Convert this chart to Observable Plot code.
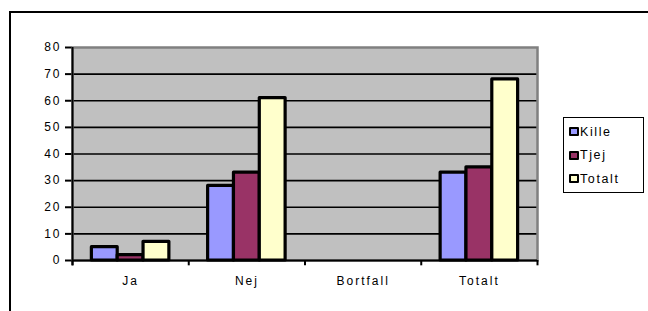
<!DOCTYPE html>
<html>
<head>
<meta charset="utf-8">
<script src="https://cdn.jsdelivr.net/npm/d3@7"></script>
<script src="https://cdn.jsdelivr.net/npm/@observablehq/plot@0.6"></script>
<style>
html,body{margin:0;padding:0;background:#fff;overflow:hidden;width:648px;height:311px}
#wrap{position:relative;width:648px;height:311px;overflow:hidden}
#chart{position:absolute;left:0;top:0}
#chart svg text{letter-spacing:2px}
#chart svg g[aria-label="y-axis tick"] path{stroke-width:2}
#outer{position:absolute;left:9px;top:11px;width:700px;height:400px;border:2px solid #000;box-sizing:border-box;pointer-events:none}
#legend{position:absolute;left:563px;top:117px;width:81px;height:76px;border:1px solid #000;background:#fff;box-sizing:border-box;
  font:12.5px "Liberation Sans",Arial,sans-serif;letter-spacing:1.6px;color:#000;padding-top:2px}
#legend .row{display:flex;align-items:center;height:23.5px;padding-left:5px}
#legend .sw{width:6px;height:5px;border:2.5px solid #000;border-radius:1px;margin-right:1px}
</style>
</head>
<body>
<div id="wrap">
  <div id="chart"></div>
  <div id="legend"></div>
  <div id="outer"></div>
</div>
<script>
const categories = ["Ja", "Nej", "Bortfall", "Totalt"];
const seriesNames = ["Kille", "Tjej", "Totalt"];
const kille = [5, 28, 0, 33];
const tjej = [2, 33, 0, 35];
const totalt = [7, 61, 0, 68];
const seriesColors = ["#9999ff", "#993366", "#ffffcc"];
const yTicks = [0, 10, 20, 30, 40, 50, 60, 70, 80];
const gridValues = [10, 20, 30, 40, 50, 60, 70];

const seriesValues = [kille, tjej, totalt];
const rows = categories.flatMap((c, i) =>
  seriesNames.map((s, j) => ({cat: c, ci: i, s, sj: j, v: seriesValues[j][i]}))
).filter(d => d.v > 0);

// Excel-like clustered layout: gap width 150% => each category unit = 4.5 bar widths
const slot = 4.5;
const boundaries = d3.range(categories.length + 1);

const chart = Plot.plot({
  width: 648,
  height: 311,
  marginLeft: 72,
  marginRight: 111,
  marginTop: 47,
  marginBottom: 51,
  style: {fontFamily: "'Liberation Sans', Arial, sans-serif", fontSize: "12px", color: "#000", background: "transparent"},
  x: {type: "linear", domain: [0, categories.length], ticks: categories.map((c, i) => i + 0.5), tickFormat: v => categories[Math.floor(v)], tickSize: 0, tickPadding: 16, label: null},
  y: {type: "linear", domain: [0, 80], ticks: yTicks, tickSize: 7, tickPadding: 4, label: null},
  color: {domain: seriesNames, range: seriesColors},
  marks: [
    Plot.frame({fill: "#c0c0c0"}),
    Plot.ruleY(gridValues, {stroke: "#000", strokeWidth: 1.6}),
    Plot.frame({stroke: "#808080", strokeWidth: 2.5}),
    Plot.rectY(rows, {
      x1: d => d.ci + (0.75 + d.sj) / slot,
      x2: d => d.ci + (1.75 + d.sj) / slot,
      y1: 0,
      y2: "v",
      fill: "s",
      stroke: "#000",
      strokeWidth: 3.2,
      strokeLinejoin: "round"
    }),
    Plot.ruleY([0], {stroke: "#000", strokeWidth: 2}),
    Plot.ruleX([0], {y1: -2, y2: 80, stroke: "#000", strokeWidth: 2}),
    Plot.ruleX(boundaries, {x: d => d, y1: 0, y2: -2, stroke: "#000", strokeWidth: 2})
  ]
});
document.getElementById("chart").appendChild(chart);

const legend = document.getElementById("legend");
seriesNames.forEach((s, j) => {
  const row = document.createElement("div");
  row.className = "row";
  const sw = document.createElement("span");
  sw.className = "sw";
  sw.style.background = seriesColors[j];
  const t = document.createElement("span");
  t.textContent = s;
  row.appendChild(sw);
  row.appendChild(t);
  legend.appendChild(row);
});
</script>
</body>
</html>
